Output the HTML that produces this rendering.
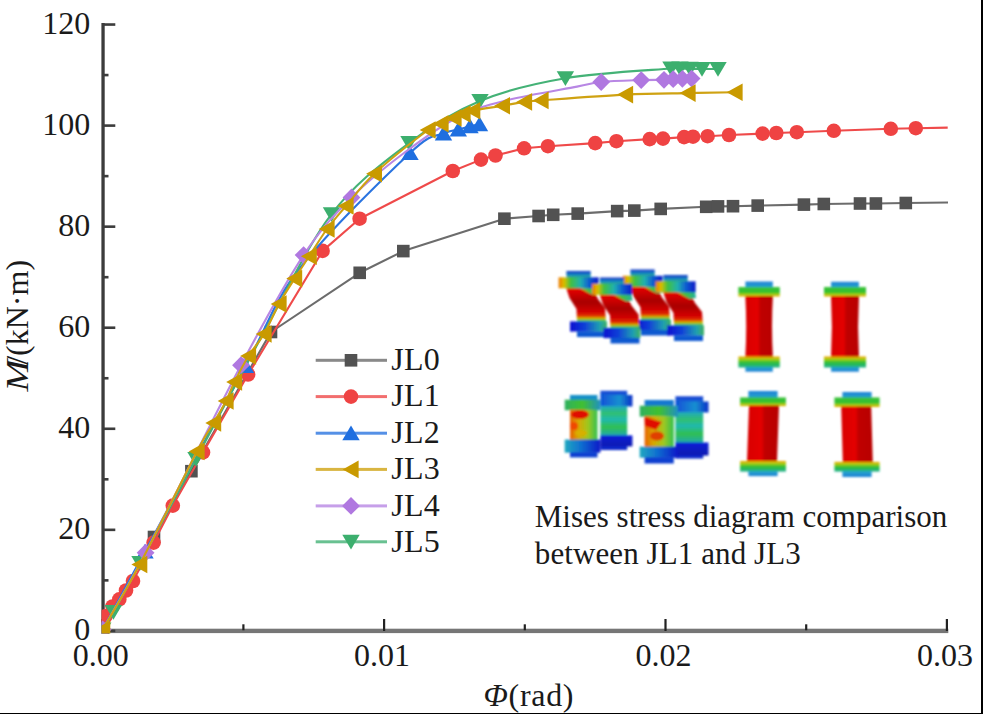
<!DOCTYPE html>
<html><head><meta charset="utf-8"><style>
html,body{margin:0;padding:0;background:#fff;}
body{width:983px;height:714px;overflow:hidden;position:relative;}
svg{position:absolute;left:0;top:0;}
</style></head><body>
<svg width="983" height="714" viewBox="0 0 983 714">
<defs><clipPath id="pc"><rect x="101.5" y="0" width="880" height="633.5"/></clipPath></defs>
<rect x="0" y="0" width="983" height="714" fill="#fff"/>
<defs><linearGradient id="capT" x1="0" y1="0" x2="0" y2="1"><stop offset="0" stop-color="#1f7fd8"/><stop offset="1" stop-color="#22a8c8"/></linearGradient><linearGradient id="capB" x1="0" y1="0" x2="0" y2="1"><stop offset="0" stop-color="#22a8c8"/><stop offset="1" stop-color="#1f7fd8"/></linearGradient><linearGradient id="flT" x1="0" y1="0" x2="0" y2="1"><stop offset="0" stop-color="#3ac23a"/><stop offset="0.55" stop-color="#30c030"/><stop offset="0.8" stop-color="#a8d010"/><stop offset="1" stop-color="#f0a000"/></linearGradient><linearGradient id="flB" x1="0" y1="0" x2="0" y2="1"><stop offset="0" stop-color="#f0a000"/><stop offset="0.25" stop-color="#a8d010"/><stop offset="0.5" stop-color="#30c030"/><stop offset="1" stop-color="#20b090"/></linearGradient><linearGradient id="bodyR" x1="0" y1="0" x2="1" y2="0"><stop offset="0" stop-color="#d80000"/><stop offset="0.45" stop-color="#e40000"/><stop offset="0.55" stop-color="#c00000"/><stop offset="1" stop-color="#b80000"/></linearGradient><linearGradient id="L1fl" x1="0" y1="0" x2="1" y2="0"><stop offset="0" stop-color="#30b060"/><stop offset="0.5" stop-color="#40c030"/><stop offset="1" stop-color="#2090c0"/></linearGradient><linearGradient id="L1body" x1="0" y1="0" x2="1" y2="0"><stop offset="0" stop-color="#e86000"/><stop offset="0.3" stop-color="#d8a800"/><stop offset="0.65" stop-color="#a0c820"/><stop offset="1" stop-color="#30c050"/></linearGradient><linearGradient id="L1bfl" x1="0" y1="0" x2="1" y2="0"><stop offset="0" stop-color="#20a8c0"/><stop offset="0.45" stop-color="#1070d0"/><stop offset="1" stop-color="#0818c8"/></linearGradient><linearGradient id="blueCap" x1="0" y1="0" x2="0" y2="1"><stop offset="0" stop-color="#1840d0"/><stop offset="1" stop-color="#1060d8"/></linearGradient><linearGradient id="L2fl" x1="0" y1="0" x2="1" y2="0"><stop offset="0" stop-color="#1050d8"/><stop offset="0.6" stop-color="#1890d0"/><stop offset="1" stop-color="#0a30c8"/></linearGradient><linearGradient id="L2body" x1="0" y1="0" x2="0" y2="1"><stop offset="0" stop-color="#20a8c0"/><stop offset="0.25" stop-color="#30c070"/><stop offset="0.45" stop-color="#20b8b0"/><stop offset="0.7" stop-color="#30c050"/><stop offset="1" stop-color="#20a8b0"/></linearGradient><linearGradient id="dblue" x1="0" y1="0" x2="0" y2="1"><stop offset="0" stop-color="#0a20d8"/><stop offset="1" stop-color="#0818b0"/></linearGradient><linearGradient id="Tfl" x1="0" y1="0" x2="1" y2="0"><stop offset="0" stop-color="#f07800"/><stop offset="0.14" stop-color="#d8c000"/><stop offset="0.3" stop-color="#40c040"/><stop offset="0.55" stop-color="#20b0b0"/><stop offset="0.75" stop-color="#1060d0"/><stop offset="1" stop-color="#0818c8"/></linearGradient><linearGradient id="Tcap" x1="0" y1="0" x2="0" y2="1"><stop offset="0" stop-color="#1030c8"/><stop offset="0.6" stop-color="#1890c0"/><stop offset="1" stop-color="#30b070"/></linearGradient><linearGradient id="Tbody" x1="0" y1="0" x2="0" y2="1"><stop offset="0" stop-color="#f05000"/><stop offset="0.12" stop-color="#e00000"/><stop offset="0.45" stop-color="#a80000"/><stop offset="0.7" stop-color="#d00000"/><stop offset="0.84" stop-color="#e03000"/><stop offset="0.91" stop-color="#d0c000"/><stop offset="0.96" stop-color="#30c040"/><stop offset="1" stop-color="#20b0a0"/></linearGradient><linearGradient id="Tbfl" x1="0" y1="0" x2="1" y2="0"><stop offset="0" stop-color="#0a10d0"/><stop offset="0.4" stop-color="#1040d8"/><stop offset="0.8" stop-color="#20a0b0"/><stop offset="1" stop-color="#40b060"/></linearGradient><linearGradient id="Ttrans" x1="0" y1="0" x2="1" y2="0"><stop offset="0" stop-color="#c8c000"/><stop offset="0.5" stop-color="#40c040"/><stop offset="1" stop-color="#20b0a0"/></linearGradient><filter id="fb" x="-5%" y="-5%" width="110%" height="110%"><feGaussianBlur stdDeviation="1.1"/></filter></defs><g filter="url(#fb)"><rect x="745.4" y="281.5" width="27.4" height="6.5" fill="url(#capT)"/><rect x="738.4" y="287.0" width="41.4" height="9.5" fill="url(#flT)"/><path d="M745.3,296.0 L772.9,296.0 Q771.1,326.5 772.9,357.0 L745.3,357.0 Q747.1,326.5 745.3,296.0Z" fill="url(#bodyR)"/><rect x="738.4" y="356.5" width="41.4" height="11.0" fill="url(#flB)"/><rect x="745.4" y="367.0" width="27.4" height="4.7" fill="url(#capB)"/><rect x="831.1" y="281.8" width="27.8" height="6.2" fill="url(#capT)"/><rect x="824.0" y="287.0" width="42.0" height="9.5" fill="url(#flT)"/><path d="M831.0,296.0 L859.0,296.0 Q857.2,326.5 859.0,357.0 L831.0,357.0 Q832.8,326.5 831.0,296.0Z" fill="url(#bodyR)"/><rect x="824.0" y="356.5" width="42.0" height="11.0" fill="url(#flB)"/><rect x="831.1" y="367.0" width="27.8" height="4.7" fill="url(#capB)"/><rect x="748.4" y="391.0" width="29.2" height="7.4" fill="url(#capT)"/><rect x="740.1" y="397.4" width="45.8" height="8.7" fill="url(#flT)"/><path d="M749.0,405.6 L779.0,405.6 Q778.0,433.6 777.0,461.5 L747.0,461.5 Q748.0,433.6 749.0,405.6Z" fill="url(#bodyR)"/><rect x="740.1" y="461.0" width="45.8" height="10.6" fill="url(#flB)"/><rect x="748.4" y="471.1" width="29.2" height="5.0" fill="url(#capB)"/><rect x="842.4" y="392.0" width="29.2" height="6.4" fill="url(#capT)"/><rect x="834.4" y="397.4" width="45.2" height="9.6" fill="url(#flT)"/><path d="M841.2,406.5 L871.2,406.5 Q872.0,434.4 872.8,462.4 L842.8,462.4 Q842.0,434.4 841.2,406.5Z" fill="url(#bodyR)"/><rect x="834.4" y="461.9" width="45.2" height="9.7" fill="url(#flB)"/><rect x="842.4" y="471.1" width="29.2" height="5.9" fill="url(#capB)"/><rect x="600.4" y="390.8" width="26.8" height="4.7" fill="url(#blueCap)"/><rect x="600.4" y="395.0" width="32.0" height="11.5" fill="url(#L2fl)"/><rect x="600.4" y="406.0" width="26.8" height="29.9" fill="url(#L2body)"/><rect x="600.4" y="435.4" width="32.0" height="11.0" fill="url(#dblue)"/><rect x="600.4" y="445.9" width="26.8" height="4.1" fill="#0a28c8"/><rect x="675.4" y="396.3" width="27.8" height="5.7" fill="url(#blueCap)"/><rect x="675.4" y="401.5" width="33.1" height="11.0" fill="url(#L2fl)"/><rect x="675.4" y="412.0" width="27.8" height="31.0" fill="url(#L2body)"/><rect x="675.4" y="442.5" width="33.1" height="13.0" fill="url(#dblue)"/><rect x="675.4" y="455.0" width="27.8" height="3.5" fill="#0a28c8"/><rect x="570.0" y="395.0" width="27.5" height="5.2" fill="#1890c8"/><rect x="564.7" y="399.7" width="35.7" height="10.5" fill="url(#L1fl)"/><rect x="570.0" y="409.7" width="27.5" height="30.4" fill="url(#L1body)"/><rect x="564.7" y="439.6" width="35.7" height="13.1" fill="url(#L1bfl)"/><rect x="570.0" y="452.2" width="27.5" height="5.2" fill="#1040d0"/><ellipse cx="580" cy="414.5" rx="9" ry="4.5" fill="#e01000"/><ellipse cx="574" cy="426" rx="4" ry="4" fill="#f04800"/><ellipse cx="581" cy="433" rx="6" ry="3" fill="#d8b000"/><rect x="644.6" y="400.0" width="29.2" height="6.2" fill="#1878d0"/><rect x="639.7" y="405.7" width="38.3" height="11.0" fill="url(#L1fl)"/><rect x="644.6" y="416.2" width="29.2" height="31.0" fill="url(#L1body)"/><rect x="639.7" y="446.7" width="38.3" height="11.0" fill="url(#L1bfl)"/><rect x="644.6" y="457.2" width="29.2" height="6.3" fill="#1040d0"/><path d="M644.5,417 L662,422 L656,430 L645,426Z" fill="#e01000"/><ellipse cx="657" cy="436" rx="7" ry="4.5" fill="#e04000"/><polygon points="565.5,286.0 591.5,286.0 598.0,299.0 605.0,308.0 606.0,321.8 577.0,321.8 576.5,309.0 569.5,298.0" fill="url(#Tbody)"/><polygon points="578.0,287.0 598.0,287.0 599.0,294.0 593.0,295.0 586.0,291.5" fill="url(#Ttrans)"/><rect x="566.4" y="271.0" width="24.3" height="7" fill="url(#Tcap)"/><rect x="558.6" y="277.3" width="40" height="11" fill="url(#Tfl)"/><rect x="570.0" y="321.4" width="37" height="10.2" fill="url(#Tbfl)"/><rect x="577.0" y="331.4" width="29" height="5.6" fill="#1058d0"/><polygon points="629.5,284.5 655.5,284.5 662.0,297.5 669.0,306.5 670.0,320.3 641.0,320.3 640.5,307.5 633.5,296.5" fill="url(#Tbody)"/><polygon points="642.0,285.5 662.0,285.5 663.0,292.5 657.0,293.5 650.0,290.0" fill="url(#Ttrans)"/><rect x="630.4" y="269.5" width="24.3" height="7" fill="url(#Tcap)"/><rect x="622.6" y="275.8" width="40" height="11" fill="url(#Tfl)"/><rect x="634.0" y="319.9" width="37" height="10.2" fill="url(#Tbfl)"/><rect x="641.0" y="329.9" width="29" height="5.6" fill="#1058d0"/><polygon points="599.0,292.5 625.0,292.5 631.5,305.5 638.5,314.5 639.5,328.3 610.5,328.3 610.0,315.5 603.0,304.5" fill="url(#Tbody)"/><polygon points="611.5,293.5 631.5,293.5 632.5,300.5 626.5,301.5 619.5,298.0" fill="url(#Ttrans)"/><rect x="599.9" y="277.5" width="24.3" height="7" fill="url(#Tcap)"/><rect x="592.1" y="283.8" width="40" height="11" fill="url(#Tfl)"/><rect x="603.5" y="327.9" width="37" height="10.2" fill="url(#Tbfl)"/><rect x="610.5" y="337.9" width="29" height="5.6" fill="#1058d0"/><polygon points="662.5,290.0 688.5,290.0 695.0,303.0 702.0,312.0 703.0,325.8 674.0,325.8 673.5,313.0 666.5,302.0" fill="url(#Tbody)"/><polygon points="675.0,291.0 695.0,291.0 696.0,298.0 690.0,299.0 683.0,295.5" fill="url(#Ttrans)"/><rect x="663.4" y="275.0" width="24.3" height="7" fill="url(#Tcap)"/><rect x="655.6" y="281.3" width="40" height="11" fill="url(#Tfl)"/><rect x="667.0" y="325.4" width="37" height="10.2" fill="url(#Tbfl)"/><rect x="674.0" y="335.4" width="29" height="5.6" fill="#1058d0"/></g>
<rect x="101.4" y="23" width="3.3" height="610" fill="#3c3c3c"/><rect x="101.5" y="628.7" width="846.8" height="4.4" fill="#767676"/><rect x="103" y="629.60" width="12.3" height="2.6" fill="#3c3c3c"/><rect x="103" y="528.54" width="12.3" height="2.6" fill="#3c3c3c"/><rect x="103" y="427.48" width="12.3" height="2.6" fill="#3c3c3c"/><rect x="103" y="326.42" width="12.3" height="2.6" fill="#3c3c3c"/><rect x="103" y="225.36" width="12.3" height="2.6" fill="#3c3c3c"/><rect x="103" y="124.30" width="12.3" height="2.6" fill="#3c3c3c"/><rect x="103" y="23.24" width="12.3" height="2.6" fill="#3c3c3c"/><rect x="103" y="579.07" width="5.5" height="2.6" fill="#3c3c3c"/><rect x="103" y="478.01" width="5.5" height="2.6" fill="#3c3c3c"/><rect x="103" y="376.95" width="5.5" height="2.6" fill="#3c3c3c"/><rect x="103" y="275.89" width="5.5" height="2.6" fill="#3c3c3c"/><rect x="103" y="174.83" width="5.5" height="2.6" fill="#3c3c3c"/><rect x="103" y="73.77" width="5.5" height="2.6" fill="#3c3c3c"/><rect x="101.60" y="619" width="2.2" height="12" fill="#222"/><rect x="383.00" y="619" width="2.2" height="12" fill="#222"/><rect x="664.40" y="619" width="2.2" height="12" fill="#222"/><rect x="945.80" y="619" width="2.2" height="12" fill="#222"/><rect x="242.30" y="624.3" width="2.2" height="6" fill="#222"/><rect x="523.70" y="624.3" width="2.2" height="6" fill="#222"/><rect x="805.10" y="624.3" width="2.2" height="6" fill="#222"/>
<g clip-path="url(#pc)">
<path d="M102.70,629.50 L154.00,537.00 L191.40,471.20 L271.00,332.00 L359.70,272.80 L403.30,251.10 L504.40,218.70 L538.60,216.00 L553.20,214.80 L577.70,213.60 L617.20,211.10 L634.30,210.60 L660.70,208.90 L706.20,206.80 L718.00,206.40 L733.00,206.20 L757.70,205.60 L803.90,204.60 L823.80,204.00 L860.00,203.50 L875.90,203.50 L905.80,203.00 L948.00,202.50" fill="none" stroke="#6c6c6c" stroke-width="2.1" stroke-linejoin="round"/>
<rect x="96.40" y="623.20" width="12.60" height="12.60" fill="#525252"/>
<rect x="147.70" y="530.70" width="12.60" height="12.60" fill="#525252"/>
<rect x="185.10" y="464.90" width="12.60" height="12.60" fill="#525252"/>
<rect x="264.70" y="325.70" width="12.60" height="12.60" fill="#525252"/>
<rect x="353.40" y="266.50" width="12.60" height="12.60" fill="#525252"/>
<rect x="397.00" y="244.80" width="12.60" height="12.60" fill="#525252"/>
<rect x="498.10" y="212.40" width="12.60" height="12.60" fill="#525252"/>
<rect x="532.30" y="209.70" width="12.60" height="12.60" fill="#525252"/>
<rect x="546.90" y="208.50" width="12.60" height="12.60" fill="#525252"/>
<rect x="571.40" y="207.30" width="12.60" height="12.60" fill="#525252"/>
<rect x="610.90" y="204.80" width="12.60" height="12.60" fill="#525252"/>
<rect x="628.00" y="204.30" width="12.60" height="12.60" fill="#525252"/>
<rect x="654.40" y="202.60" width="12.60" height="12.60" fill="#525252"/>
<rect x="699.90" y="200.50" width="12.60" height="12.60" fill="#525252"/>
<rect x="711.70" y="200.10" width="12.60" height="12.60" fill="#525252"/>
<rect x="726.70" y="199.90" width="12.60" height="12.60" fill="#525252"/>
<rect x="751.40" y="199.30" width="12.60" height="12.60" fill="#525252"/>
<rect x="797.60" y="198.30" width="12.60" height="12.60" fill="#525252"/>
<rect x="817.50" y="197.70" width="12.60" height="12.60" fill="#525252"/>
<rect x="853.70" y="197.20" width="12.60" height="12.60" fill="#525252"/>
<rect x="869.60" y="197.20" width="12.60" height="12.60" fill="#525252"/>
<rect x="899.50" y="196.70" width="12.60" height="12.60" fill="#525252"/>
<path d="M102.70,629.50 L105.40,616.40 L112.50,606.50 L119.30,599.40 L126.00,590.50 L133.00,581.00 L153.60,542.60 L172.80,505.60 L203.00,452.40 L248.10,374.50 L322.60,250.90 L359.60,218.70 L452.80,171.00 L481.00,159.60 L495.50,155.50 L524.10,148.30 L547.90,146.20 L595.20,143.10 L616.40,141.20 L649.70,139.10 L663.00,138.60 L684.10,137.10 L693.00,136.70 L707.60,136.20 L729.00,135.00 L762.60,133.60 L776.30,133.00 L796.80,132.20 L833.80,130.80 L890.80,128.80 L915.80,128.20 L947.70,127.60" fill="none" stroke="#ef4a4a" stroke-width="2.1" stroke-linejoin="round"/>
<circle cx="102.70" cy="629.50" r="7.3" fill="#ef4343"/>
<circle cx="105.40" cy="616.40" r="7.3" fill="#ef4343"/>
<circle cx="112.50" cy="606.50" r="7.3" fill="#ef4343"/>
<circle cx="119.30" cy="599.40" r="7.3" fill="#ef4343"/>
<circle cx="126.00" cy="590.50" r="7.3" fill="#ef4343"/>
<circle cx="133.00" cy="581.00" r="7.3" fill="#ef4343"/>
<circle cx="153.60" cy="542.60" r="7.3" fill="#ef4343"/>
<circle cx="172.80" cy="505.60" r="7.3" fill="#ef4343"/>
<circle cx="203.00" cy="452.40" r="7.3" fill="#ef4343"/>
<circle cx="248.10" cy="374.50" r="7.3" fill="#ef4343"/>
<circle cx="322.60" cy="250.90" r="7.3" fill="#ef4343"/>
<circle cx="359.60" cy="218.70" r="7.3" fill="#ef4343"/>
<circle cx="452.80" cy="171.00" r="7.3" fill="#ef4343"/>
<circle cx="481.00" cy="159.60" r="7.3" fill="#ef4343"/>
<circle cx="495.50" cy="155.50" r="7.3" fill="#ef4343"/>
<circle cx="524.10" cy="148.30" r="7.3" fill="#ef4343"/>
<circle cx="547.90" cy="146.20" r="7.3" fill="#ef4343"/>
<circle cx="595.20" cy="143.10" r="7.3" fill="#ef4343"/>
<circle cx="616.40" cy="141.20" r="7.3" fill="#ef4343"/>
<circle cx="649.70" cy="139.10" r="7.3" fill="#ef4343"/>
<circle cx="663.00" cy="138.60" r="7.3" fill="#ef4343"/>
<circle cx="684.10" cy="137.10" r="7.3" fill="#ef4343"/>
<circle cx="693.00" cy="136.70" r="7.3" fill="#ef4343"/>
<circle cx="707.60" cy="136.20" r="7.3" fill="#ef4343"/>
<circle cx="729.00" cy="135.00" r="7.3" fill="#ef4343"/>
<circle cx="762.60" cy="133.60" r="7.3" fill="#ef4343"/>
<circle cx="776.30" cy="133.00" r="7.3" fill="#ef4343"/>
<circle cx="796.80" cy="132.20" r="7.3" fill="#ef4343"/>
<circle cx="833.80" cy="130.80" r="7.3" fill="#ef4343"/>
<circle cx="890.80" cy="128.80" r="7.3" fill="#ef4343"/>
<circle cx="915.80" cy="128.20" r="7.3" fill="#ef4343"/>
<path d="M102.70,629.50 C109.75,616.50 121.20,595.42 145.00,551.50 C168.80,507.58 219.67,413.25 245.50,366.00 C271.33,318.75 272.58,303.50 300.00,268.00 C327.42,232.50 386.08,175.42 410.00,153.00 C433.92,130.58 435.45,137.42 443.50,133.50 C451.55,129.58 453.88,130.70 458.30,129.50 C462.72,128.30 466.47,127.17 470.00,126.30 C473.53,125.43 477.92,124.63 479.50,124.30" fill="none" stroke="#2a74e0" stroke-width="2.1" stroke-linejoin="round"/>
<path d="M102.70,621.70 L111.40,636.50 L94.00,636.50Z" fill="#1f6fe0"/>
<path d="M145.00,543.70 L153.70,558.50 L136.30,558.50Z" fill="#1f6fe0"/>
<path d="M245.50,358.20 L254.20,373.00 L236.80,373.00Z" fill="#1f6fe0"/>
<path d="M410.00,145.20 L418.70,160.00 L401.30,160.00Z" fill="#1f6fe0"/>
<path d="M443.50,125.70 L452.20,140.50 L434.80,140.50Z" fill="#1f6fe0"/>
<path d="M458.30,121.70 L467.00,136.50 L449.60,136.50Z" fill="#1f6fe0"/>
<path d="M470.00,118.50 L478.70,133.30 L461.30,133.30Z" fill="#1f6fe0"/>
<path d="M479.50,116.50 L488.20,131.30 L470.80,131.30Z" fill="#1f6fe0"/>
<path d="M102.70,629.50 C104.48,626.58 107.18,623.08 113.40,612.00 C119.62,600.92 126.23,588.50 140.00,563.00 C153.77,537.50 175.67,496.83 196.00,459.00 C216.33,421.17 239.42,376.80 262.00,336.00 C284.58,295.20 307.00,246.37 331.50,214.20 C356.00,182.03 384.25,161.87 409.00,143.00 C433.75,124.13 453.93,111.80 480.00,101.00 C506.07,90.20 533.57,83.62 565.40,78.20 C597.23,72.78 651.90,70.12 671.00,68.50 C690.10,66.88 676.83,68.45 680.00,68.50 C683.17,68.55 686.33,68.72 690.00,68.80 C693.67,68.88 697.33,68.97 702.00,69.00 C706.67,69.03 715.33,69.00 718.00,69.00" fill="none" stroke="#44b276" stroke-width="2.1" stroke-linejoin="round"/>
<path d="M102.70,637.30 L111.40,622.50 L94.00,622.50Z" fill="#3caf6e"/>
<path d="M113.40,619.80 L122.10,605.00 L104.70,605.00Z" fill="#3caf6e"/>
<path d="M140.00,570.80 L148.70,556.00 L131.30,556.00Z" fill="#3caf6e"/>
<path d="M196.00,466.80 L204.70,452.00 L187.30,452.00Z" fill="#3caf6e"/>
<path d="M331.50,222.00 L340.20,207.20 L322.80,207.20Z" fill="#3caf6e"/>
<path d="M409.00,150.80 L417.70,136.00 L400.30,136.00Z" fill="#3caf6e"/>
<path d="M480.00,108.80 L488.70,94.00 L471.30,94.00Z" fill="#3caf6e"/>
<path d="M565.40,86.00 L574.10,71.20 L556.70,71.20Z" fill="#3caf6e"/>
<path d="M671.00,76.30 L679.70,61.50 L662.30,61.50Z" fill="#3caf6e"/>
<path d="M680.00,76.30 L688.70,61.50 L671.30,61.50Z" fill="#3caf6e"/>
<path d="M690.00,76.60 L698.70,61.80 L681.30,61.80Z" fill="#3caf6e"/>
<path d="M702.00,76.80 L710.70,62.00 L693.30,62.00Z" fill="#3caf6e"/>
<path d="M718.00,76.80 L726.70,62.00 L709.30,62.00Z" fill="#3caf6e"/>
<path d="M102.70,629.50 C109.85,616.70 122.55,596.75 145.60,552.70 C168.65,508.65 214.67,414.80 241.00,365.20 C267.33,315.60 285.18,283.05 303.60,255.10 C322.02,227.15 334.77,214.52 351.50,197.50 C368.23,180.48 385.92,166.58 404.00,153.00 C422.08,139.42 442.67,124.83 460.00,116.00 C477.33,107.17 488.50,104.90 508.00,100.00 C527.50,95.10 561.47,89.60 577.00,86.60 C592.53,83.60 590.50,83.08 601.20,82.00 C611.90,80.92 630.73,80.47 641.20,80.10 C651.67,79.73 658.67,79.95 664.00,79.80 C669.33,79.65 670.13,79.37 673.20,79.20 C676.27,79.03 679.33,78.90 682.40,78.80 C685.47,78.70 690.07,78.63 691.60,78.60" fill="none" stroke="#b887e4" stroke-width="2.1" stroke-linejoin="round"/>
<path d="M102.70,620.60 L111.60,629.50 L102.70,638.40 L93.80,629.50Z" fill="#b078e0"/>
<path d="M145.60,543.80 L154.50,552.70 L145.60,561.60 L136.70,552.70Z" fill="#b078e0"/>
<path d="M241.00,356.30 L249.90,365.20 L241.00,374.10 L232.10,365.20Z" fill="#b078e0"/>
<path d="M303.60,246.20 L312.50,255.10 L303.60,264.00 L294.70,255.10Z" fill="#b078e0"/>
<path d="M351.50,188.60 L360.40,197.50 L351.50,206.40 L342.60,197.50Z" fill="#b078e0"/>
<path d="M601.20,73.10 L610.10,82.00 L601.20,90.90 L592.30,82.00Z" fill="#b078e0"/>
<path d="M641.20,71.20 L650.10,80.10 L641.20,89.00 L632.30,80.10Z" fill="#b078e0"/>
<path d="M664.00,70.90 L672.90,79.80 L664.00,88.70 L655.10,79.80Z" fill="#b078e0"/>
<path d="M673.20,70.30 L682.10,79.20 L673.20,88.10 L664.30,79.20Z" fill="#b078e0"/>
<path d="M682.40,69.90 L691.30,78.80 L682.40,87.70 L673.50,78.80Z" fill="#b078e0"/>
<path d="M691.60,69.70 L700.50,78.60 L691.60,87.50 L682.70,78.60Z" fill="#b078e0"/>
<path d="M102.70,629.50 C108.87,618.67 123.98,594.18 139.70,564.50 C155.42,534.82 184.68,474.98 197.00,451.40 C209.32,427.82 208.77,431.40 213.60,423.00 C218.43,414.60 222.52,407.83 226.00,401.00 C229.48,394.17 230.75,389.50 234.50,382.00 C238.25,374.50 243.58,364.00 248.50,356.00 C253.42,348.00 258.92,342.67 264.00,334.00 C269.08,325.33 273.90,313.23 279.00,304.00 C284.10,294.77 289.57,286.55 294.60,278.60 C299.63,270.65 303.80,264.57 309.20,256.30 C314.60,248.03 320.87,237.38 327.00,229.00 C333.13,220.62 338.10,215.22 346.00,206.00 C353.90,196.78 360.73,186.37 374.40,173.70 C388.07,161.03 416.90,138.33 428.00,130.00 C439.10,121.67 436.67,125.70 441.00,123.70 C445.33,121.70 450.33,119.62 454.00,118.00 C457.67,116.38 459.88,115.22 463.00,114.00 C466.12,112.78 466.13,112.08 472.70,110.70 C479.27,109.32 493.77,107.17 502.40,105.70 C511.03,104.23 518.07,102.78 524.50,101.90 C530.93,101.02 524.17,101.62 541.00,100.40 C557.83,99.18 601.00,95.82 625.50,94.60 C650.00,93.38 669.75,93.48 688.00,93.10 C706.25,92.72 727.17,92.43 735.00,92.30" fill="none" stroke="#cfa212" stroke-width="2.1" stroke-linejoin="round"/>
<path d="M94.40,629.50 L110.30,620.70 L110.30,638.30Z" fill="#c99a00"/>
<path d="M131.40,564.50 L147.30,555.70 L147.30,573.30Z" fill="#c99a00"/>
<path d="M188.70,451.40 L204.60,442.60 L204.60,460.20Z" fill="#c99a00"/>
<path d="M205.30,423.00 L221.20,414.20 L221.20,431.80Z" fill="#c99a00"/>
<path d="M217.70,401.00 L233.60,392.20 L233.60,409.80Z" fill="#c99a00"/>
<path d="M226.20,382.00 L242.10,373.20 L242.10,390.80Z" fill="#c99a00"/>
<path d="M240.20,356.00 L256.10,347.20 L256.10,364.80Z" fill="#c99a00"/>
<path d="M255.70,334.00 L271.60,325.20 L271.60,342.80Z" fill="#c99a00"/>
<path d="M270.70,304.00 L286.60,295.20 L286.60,312.80Z" fill="#c99a00"/>
<path d="M286.30,278.60 L302.20,269.80 L302.20,287.40Z" fill="#c99a00"/>
<path d="M300.90,256.30 L316.80,247.50 L316.80,265.10Z" fill="#c99a00"/>
<path d="M318.70,229.00 L334.60,220.20 L334.60,237.80Z" fill="#c99a00"/>
<path d="M337.70,206.00 L353.60,197.20 L353.60,214.80Z" fill="#c99a00"/>
<path d="M366.10,173.70 L382.00,164.90 L382.00,182.50Z" fill="#c99a00"/>
<path d="M419.70,130.00 L435.60,121.20 L435.60,138.80Z" fill="#c99a00"/>
<path d="M432.70,123.70 L448.60,114.90 L448.60,132.50Z" fill="#c99a00"/>
<path d="M445.70,118.00 L461.60,109.20 L461.60,126.80Z" fill="#c99a00"/>
<path d="M454.70,114.00 L470.60,105.20 L470.60,122.80Z" fill="#c99a00"/>
<path d="M464.40,110.70 L480.30,101.90 L480.30,119.50Z" fill="#c99a00"/>
<path d="M494.10,105.70 L510.00,96.90 L510.00,114.50Z" fill="#c99a00"/>
<path d="M516.20,101.90 L532.10,93.10 L532.10,110.70Z" fill="#c99a00"/>
<path d="M532.70,100.40 L548.60,91.60 L548.60,109.20Z" fill="#c99a00"/>
<path d="M617.20,94.60 L633.10,85.80 L633.10,103.40Z" fill="#c99a00"/>
<path d="M679.70,93.10 L695.60,84.30 L695.60,101.90Z" fill="#c99a00"/>
<path d="M726.70,92.30 L742.60,83.50 L742.60,101.10Z" fill="#c99a00"/>
</g>
<text x="90.3" y="639.90" font-family="Liberation Serif" font-size="32" text-anchor="end" fill="#1a1a1a">0</text>
<text x="90.3" y="538.84" font-family="Liberation Serif" font-size="32" text-anchor="end" fill="#1a1a1a">20</text>
<text x="90.3" y="437.78" font-family="Liberation Serif" font-size="32" text-anchor="end" fill="#1a1a1a">40</text>
<text x="90.3" y="336.72" font-family="Liberation Serif" font-size="32" text-anchor="end" fill="#1a1a1a">60</text>
<text x="90.3" y="235.66" font-family="Liberation Serif" font-size="32" text-anchor="end" fill="#1a1a1a">80</text>
<text x="90.3" y="134.60" font-family="Liberation Serif" font-size="32" text-anchor="end" fill="#1a1a1a">100</text>
<text x="90.3" y="33.54" font-family="Liberation Serif" font-size="32" text-anchor="end" fill="#1a1a1a">120</text>
<text x="100.70" y="666" font-family="Liberation Serif" font-size="32" text-anchor="middle" fill="#1a1a1a">0.00</text>
<text x="382.10" y="666" font-family="Liberation Serif" font-size="32" text-anchor="middle" fill="#1a1a1a">0.01</text>
<text x="663.50" y="666" font-family="Liberation Serif" font-size="32" text-anchor="middle" fill="#1a1a1a">0.02</text>
<text x="944.90" y="666" font-family="Liberation Serif" font-size="32" text-anchor="middle" fill="#1a1a1a">0.03</text>
<text x="483.5" y="706.4" font-family="Liberation Serif" font-size="32" fill="#1a1a1a" textLength="90" lengthAdjust="spacing"><tspan font-style="italic">Φ</tspan>(rad)</text>
<g transform="translate(27.5,391.5) rotate(-90)"><text transform="scale(1.2,1)" font-family="Liberation Serif" font-size="32" font-style="italic" fill="#1a1a1a">M</text><text x="26.7" font-family="Liberation Serif" font-size="32" fill="#1a1a1a">/(kN·m)</text></g>
<rect x="315.7" y="358.80" width="71.3" height="3" fill="#6c6c6c" opacity="0.8"/>
<rect x="344.70" y="354.00" width="12.60" height="12.60" fill="#525252"/>
<text x="391.3" y="370.00" font-family="Liberation Serif" font-size="32" fill="#1a1a1a" textLength="48.5" lengthAdjust="spacing">JL0</text>
<rect x="315.7" y="395.10" width="71.3" height="3" fill="#ef4a4a" opacity="0.8"/>
<circle cx="351.00" cy="396.60" r="7.3" fill="#ef4343"/>
<text x="391.3" y="406.30" font-family="Liberation Serif" font-size="32" fill="#1a1a1a" textLength="48.5" lengthAdjust="spacing">JL1</text>
<rect x="315.7" y="431.70" width="71.3" height="3" fill="#2a74e0" opacity="0.8"/>
<path d="M351.00,425.40 L359.70,440.20 L342.30,440.20Z" fill="#1f6fe0"/>
<text x="391.3" y="442.90" font-family="Liberation Serif" font-size="32" fill="#1a1a1a" textLength="48.5" lengthAdjust="spacing">JL2</text>
<rect x="315.7" y="467.90" width="71.3" height="3" fill="#cfa212" opacity="0.8"/>
<path d="M342.70,469.40 L358.60,460.60 L358.60,478.20Z" fill="#c99a00"/>
<text x="391.3" y="479.10" font-family="Liberation Serif" font-size="32" fill="#1a1a1a" textLength="48.5" lengthAdjust="spacing">JL3</text>
<rect x="315.7" y="504.40" width="71.3" height="3" fill="#b887e4" opacity="0.8"/>
<path d="M351.00,497.00 L359.90,505.90 L351.00,514.80 L342.10,505.90Z" fill="#b078e0"/>
<text x="391.3" y="515.60" font-family="Liberation Serif" font-size="32" fill="#1a1a1a" textLength="48.5" lengthAdjust="spacing">JL4</text>
<rect x="315.7" y="540.30" width="71.3" height="3" fill="#44b276" opacity="0.8"/>
<path d="M351.00,549.60 L359.70,534.80 L342.30,534.80Z" fill="#3caf6e"/>
<text x="391.3" y="551.50" font-family="Liberation Serif" font-size="32" fill="#1a1a1a" textLength="48.5" lengthAdjust="spacing">JL5</text>
<text x="534.8" y="527" font-family="Liberation Serif" font-size="31" fill="#1a1a1a">Mises stress diagram comparison</text>
<text x="534.8" y="563.7" font-family="Liberation Serif" font-size="31" fill="#1a1a1a" textLength="266" lengthAdjust="spacing">between JL1 and JL3</text>
<rect x="981" y="0" width="2" height="714" fill="#000"/>
<rect x="0" y="713" width="983" height="1" fill="#000"/>
</svg>
</body></html>
